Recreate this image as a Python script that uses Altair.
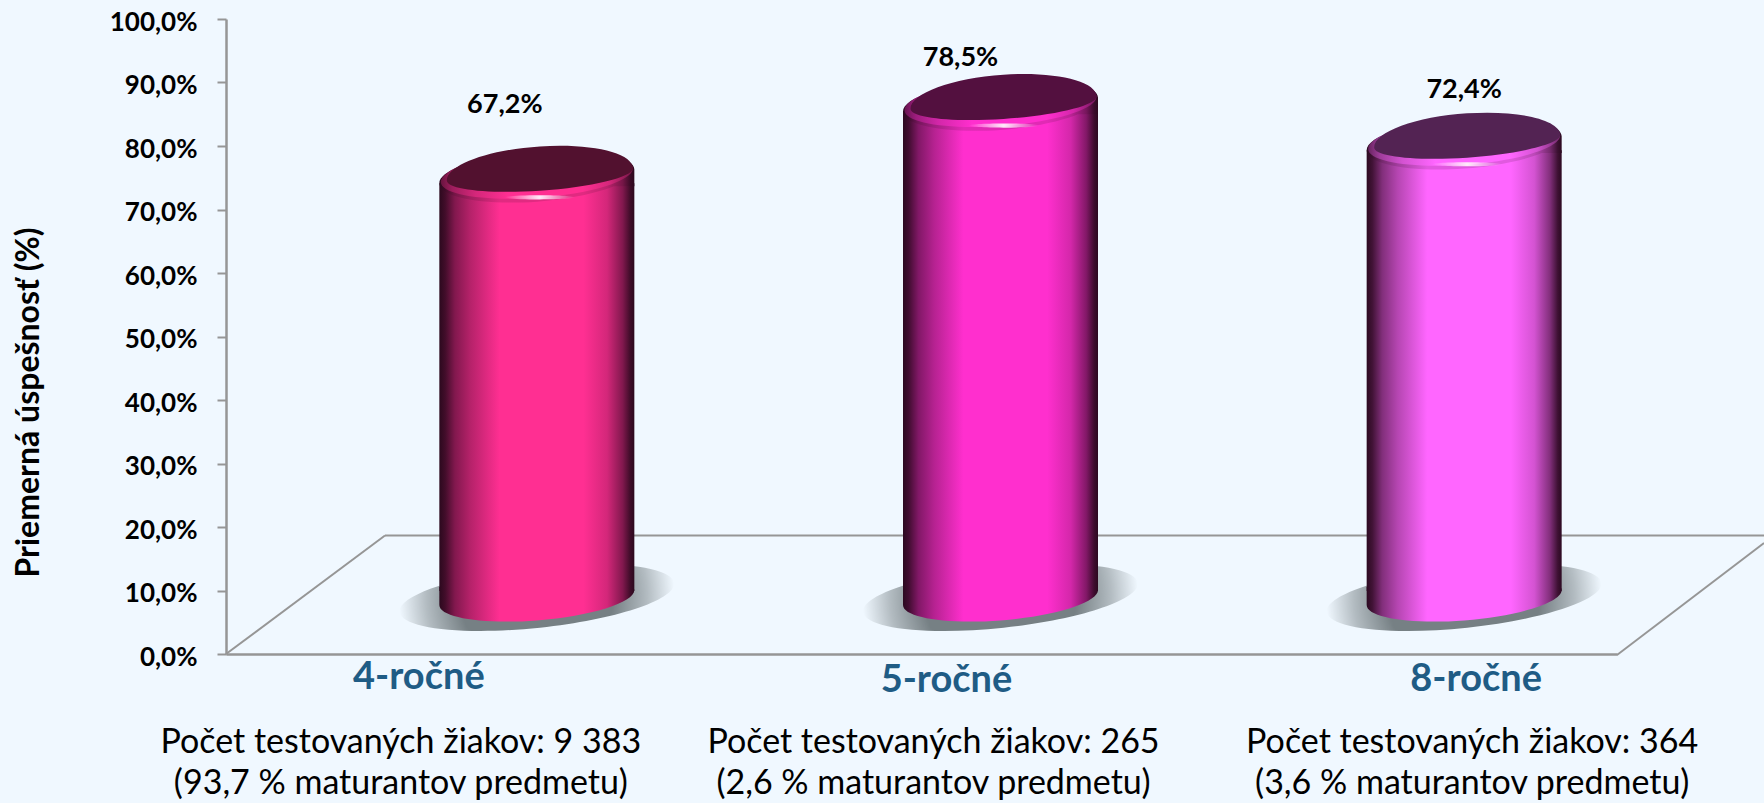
import altair as alt
import pandas as pd

# ---- data ----
categories = ["4-ročné", "5-ročné", "8-ročné"]
values = [67.2, 78.5, 72.4]
counts = ["Počet testovaných žiakov: 9 383", "Počet testovaných žiakov: 265", "Počet testovaných žiakov: 364"]
shares = ["(93,7 % maturantov predmetu)", "(2,6 % maturantov predmetu)", "(3,6 % maturantov predmetu)"]
y_ticks = list(range(0, 101, 10))
axis_title = "Priemerná úspešnosť (%)"

# ---- style ----
BG = "#f0f8ff"
GREY = "#969696"
PLOT_W, PLOT_H = 1391, 635
DEPTH_X = 79
bar_colors = ["#ff2f92", "#ff2fce", "#ff66ff"]
top_colors = ["#52112f", "#53103f", "#532353"]
value_label_dx = [-32, -40, 0]
value_label_y = [105, 58, 90]
cat_label_dx = [-39, 25, 91]
cat_label_y = [659, 662, 661]
stat_dx = [-57, 12, 87]
BAR_PX = 195


def mix(c, f):
    r, g, b = (int(c[i:i + 2], 16) for i in (1, 3, 5))
    d = (40, 8, 28)
    return "#%02x%02x%02x" % tuple(round(d[k] + ((r, g, b)[k] - d[k]) * f) for k in range(3))


def body_gradient(c, scale=1.0):
    stops = [(0, .02), (.03, .12), (.08, .42), (.16, .66), (.31, 1), (.74, 1), (.86, .8), (.94, .42), (.98, .1), (1, .02)]
    return {"gradient": "linear", "x1": 0, "y1": 0, "x2": 1, "y2": 0,
            "stops": [{"offset": o, "color": mix(c, f * scale)} for o, f in stops]}


def ring_gradient(c):
    stops = [(0, .3), (.06, .55), (.18, .8), (.35, 1), (.74, 1), (.88, .8), (1, .35)]
    return {"gradient": "linear", "x1": 0, "y1": 0, "x2": 1, "y2": 0,
            "stops": [{"offset": o, "color": mix(c, f)} for o, f in stops]}


def ellipse(rx, low, up=None, s=0.0):
    up = low if up is None else up
    k = 0.5523
    def p(x, y):
        return f"{x:.4f},{y + s * x:.4f}"
    return ("M" + p(rx, 0)
            + "C" + p(rx, k * low) + " " + p(k * rx, low) + " " + p(0, low)
            + "C" + p(-k * rx, low) + " " + p(-rx, k * low) + " " + p(-rx, 0)
            + "C" + p(-rx, -k * up) + " " + p(-k * rx, -up) + " " + p(0, -up)
            + "C" + p(k * rx, -up) + " " + p(rx, -k * up) + " " + p(rx, 0) + "Z")


RIM_S, BASE_S = -0.071, -0.077
rim_shape = ellipse(1, 0.26, 0.26, RIM_S) + f"M1,{RIM_S:.3f}L1,{-RIM_S + .03:.3f}L.6,{-RIM_S + .03:.3f}Z"
ring_shape = ellipse(1, 0.235, 0.25, RIM_S)
base_shape = ellipse(1, 0.235, None, BASE_S) + f"M-1,{-BASE_S:.3f}L-1,{BASE_S - .03:.3f}L-.6,{BASE_S - .03:.3f}Z"
top_shape = ellipse(1, 0.176, 0.30, -0.066)
plain_ellipse = ellipse(1, 0.22)
glint_shape = ellipse(1, 0.06)

df = pd.DataFrame({"cat": categories, "val": values, "zero": [0, 0, 0],
                   "label": [f"{v:.1f}%".replace(".", ",") for v in values],
                   "count": counts, "share": shares})

x_enc = alt.X("cat:N", sort=categories,
              scale=alt.Scale(domain=categories, paddingInner=0, paddingOuter=0),
              axis=alt.Axis(title=None, labels=False, ticks=False, domain=True,
                            domainColor=GREY, domainWidth=2.5, grid=False))
y_enc = alt.Y("val:Q", scale=alt.Scale(domain=[0, 100], nice=False),
              axis=alt.Axis(title=axis_title, values=y_ticks, grid=False,
                            labelExpr="replace(format(datum.value,'.1f'),'.',',')+'%'",
                            labelFont="Lato", labelFontWeight="bold", labelFontSize=26, labelColor="#000000",
                            labelPadding=20, labelOffset=3, tickSize=9, tickColor=GREY, tickWidth=2,
                            domainColor=GREY, domainWidth=2.5,
                            titleFont="Lato", titleFontWeight="bold", titleFontSize=32, titleColor="#000000",
                            titleX=-198, titleY=383, titleAlign="center", titleBaseline="middle"))

base = alt.Chart(df)
layers = []

# axes carrier (invisible)
layers.append(base.mark_bar(opacity=0).encode(x=x_enc, y=y_enc))

# floor of the 3D box
one = alt.Chart(pd.DataFrame({"a": [0]}))
for (x1, y1, x2, y2) in [(159, 516.5, 1538, 516.5), (0, 635, 159, 516.5), (1391, 636, 1538, 524)]:
    layers.append(one.mark_rule(color=GREY, strokeWidth=2).encode(
        x=alt.value(x1), y=alt.value(y1), x2=alt.value(x2), y2=alt.value(y2)))

X = alt.X("cat:N", sort=categories)
Y = alt.Y("val:Q")
Y0 = alt.Y("zero:Q")

for i, cat in enumerate(categories):
    row = alt.Chart(df[df.cat == cat])
    grad = body_gradient(bar_colors[i])
    # shadow
    layers.append(row.mark_point(
        shape=plain_ellipse, size=276 ** 2, filled=True, opacity=1, strokeWidth=0, angle=354,
        xOffset=DEPTH_X, yOffset=-56.5,
        fill={"gradient": "radial", "stops": [
            {"offset": 0, "color": "rgba(118,128,132,1)"},
            {"offset": .55, "color": "rgba(118,128,132,1)"},
            {"offset": .8, "color": "rgba(118,128,132,.5)"},
            {"offset": 1, "color": "rgba(118,128,132,0)"}]},
    ).encode(x=X, y=Y0))
    # base
    layers.append(row.mark_point(
        shape=base_shape, size=BAR_PX ** 2, filled=True, opacity=1, strokeWidth=0,
        xOffset=DEPTH_X, yOffset=-56.5, fill=grad).encode(x=X, y=Y0))
    # body
    layers.append(row.mark_bar(
        size=BAR_PX, fill=grad, opacity=1, xOffset=DEPTH_X, yOffset=-44, y2Offset=-63
    ).encode(x=X, y=Y, y2=alt.Y2("zero:Q")))
    # rim
    layers.append(row.mark_point(
        shape=rim_shape, size=BAR_PX ** 2, filled=True, opacity=1, strokeWidth=0,
        xOffset=DEPTH_X, yOffset=-51, fill=body_gradient(bar_colors[i], .86)).encode(x=X, y=Y))
    # brighter ring round the lid
    layers.append(row.mark_point(
        shape=ring_shape, size=(BAR_PX - 3) ** 2, filled=True, opacity=1, strokeWidth=0,
        xOffset=DEPTH_X, yOffset=-52, fill=ring_gradient(bar_colors[i])).encode(x=X, y=Y))
    # lid
    layers.append(row.mark_point(
        shape=top_shape, size=186 ** 2, filled=True, opacity=1, strokeWidth=0,
        xOffset=DEPTH_X + 3, yOffset=-53, fill=top_colors[i]).encode(x=X, y=Y))
    # glint
    layers.append(row.mark_point(
        shape=glint_shape, size=70 ** 2, filled=True, opacity=1, strokeWidth=0,
        xOffset=DEPTH_X + 3, yOffset=-30,
        fill={"gradient": "radial", "stops": [
            {"offset": 0, "color": "rgba(255,235,250,1)"},
            {"offset": 1, "color": "rgba(255,235,250,0)"}]},
    ).encode(x=X, y=Y))
    # value label
    bar_y = 19 + PLOT_H * (1 - values[i] / 100)
    layers.append(row.mark_text(
        font="Lato", fontWeight="bold", fontSize=27, color="#000000", baseline="middle",
        dx=DEPTH_X + value_label_dx[i], dy=value_label_y[i] - bar_y
    ).encode(x=X, y=Y, text="label:N"))
    # category label
    layers.append(row.mark_text(
        font="Lato", fontWeight="bold", fontSize=38, color="#1f5c85", baseline="middle",
        dx=cat_label_dx[i]).encode(x=X, y=alt.value(cat_label_y[i]), text="cat:N"))
    # student counts
    layers.append(row.mark_text(
        font="Lato", fontSize=34, color="#000000", baseline="middle",
        dx=stat_dx[i]).encode(x=X, y=alt.value(724), text="count:N"))
    layers.append(row.mark_text(
        font="Lato", fontSize=34, color="#000000", baseline="middle",
        dx=stat_dx[i]).encode(x=X, y=alt.value(765), text="share:N"))

chart = alt.layer(*layers).properties(
    width=PLOT_W, height=PLOT_H, background=BG,
    autosize=alt.AutoSizeParams(type="none"),
    padding={"left": 226, "top": 19, "right": 147, "bottom": 149},
).configure_view(stroke=None)

chart.save("out.html", embed_options={
    "renderer": "svg", "actions": False,
    "defaultStyle": "html,body{background:#f0f8ff;overflow:hidden}body{margin:0}svg{display:block}"})
